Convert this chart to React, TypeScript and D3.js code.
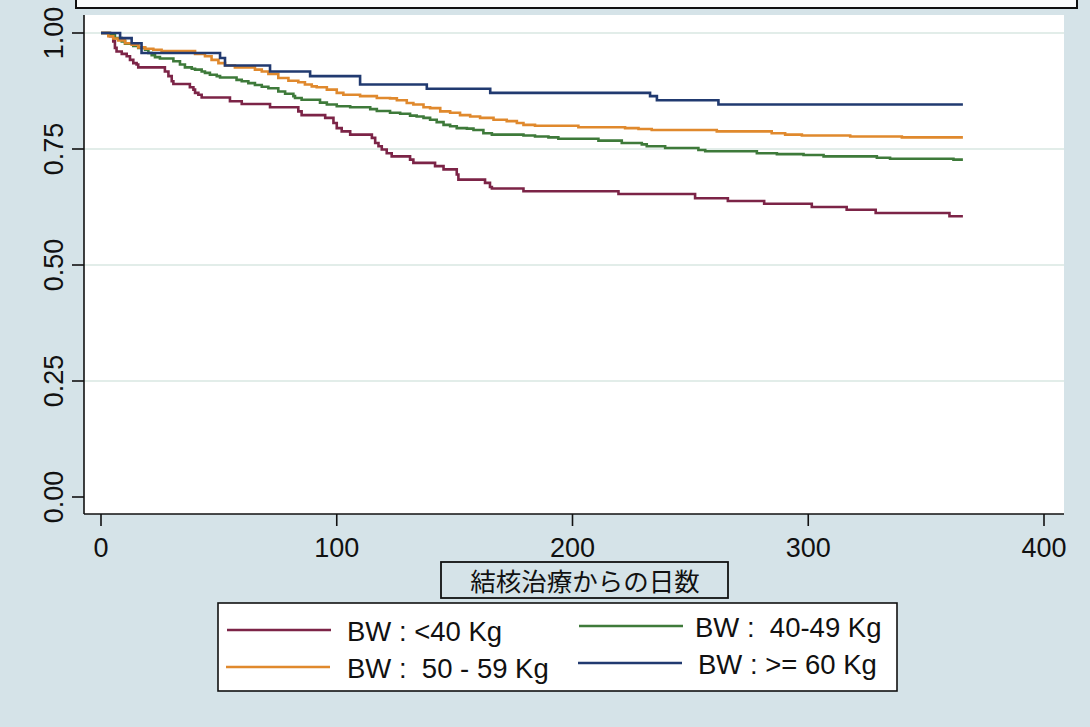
import * as d3 from "d3";

// x axis: days since start of TB treatment
const xTicks = [0, 100, 200, 300, 400];
const yTicks = [0, 0.25, 0.5, 0.75, 1];
const yTickLabels = ["0.00", "0.25", "0.50", "0.75", "1.00"];
const xTitle = "結核治療からの日数";

// BW < 40 kg
const lt40Days = [0, 3.8, 5.2, 5.9, 6.6, 8.8, 10.9, 12.3, 13.7, 15.1, 15.8, 27.1, 28.6, 30.0, 30.7, 37.7, 39.2, 39.9, 41.3, 42.7, 54.7, 59.7, 71.7, 83.7, 85.1, 95.1, 98.6, 100.0, 102.1, 105.7, 114.9, 116.3, 117.7, 119.1, 121.2, 123.3, 131.1, 132.5, 141.7, 145.3, 150.9, 151.6, 162.9, 165.0, 165.8, 179.2, 219.5, 252.0, 265.9, 281.3, 301.5, 316.3, 328.6, 359.9, 365.6];
const lt40Surv = [1, 0.993, 0.982, 0.968, 0.96, 0.955, 0.95, 0.942, 0.935, 0.932, 0.926, 0.917, 0.907, 0.896, 0.89, 0.883, 0.878, 0.871, 0.867, 0.861, 0.853, 0.847, 0.84, 0.831, 0.823, 0.817, 0.806, 0.795, 0.788, 0.781, 0.774, 0.763, 0.756, 0.749, 0.741, 0.734, 0.727, 0.72, 0.713, 0.706, 0.695, 0.684, 0.677, 0.668, 0.665, 0.659, 0.653, 0.644, 0.638, 0.632, 0.625, 0.619, 0.612, 0.605, 0.605];

// BW 40-49 kg
const bw40Days = [0, 3.8, 5.9, 8.8, 10.2, 13.7, 15.8, 18.7, 20.1, 21.5, 22.9, 25.0, 30.7, 33.5, 35.6, 38.5, 39.9, 42.7, 44.1, 46.2, 49.1, 50.5, 57.5, 59.7, 62.5, 65.3, 68.2, 71.0, 75.2, 78.1, 81.6, 82.3, 85.1, 92.9, 95.8, 100.0, 105.7, 114.2, 117.0, 122.6, 126.9, 131.1, 133.9, 136.8, 139.6, 142.4, 145.3, 148.1, 150.9, 155.2, 158.0, 162.2, 165.8, 179.2, 184.1, 189.8, 194.0, 211.0, 220.9, 229.4, 231.5, 239.3, 253.4, 256.3, 278.2, 286.7, 298.0, 306.5, 329.1, 334.7, 361.6, 365.6];
const bw40Surv = [1, 0.995, 0.989, 0.982, 0.977, 0.972, 0.968, 0.964, 0.957, 0.952, 0.948, 0.945, 0.939, 0.932, 0.926, 0.923, 0.921, 0.917, 0.914, 0.91, 0.907, 0.904, 0.899, 0.896, 0.892, 0.888, 0.884, 0.881, 0.874, 0.869, 0.864, 0.86, 0.856, 0.85, 0.846, 0.842, 0.84, 0.836, 0.832, 0.828, 0.826, 0.822, 0.82, 0.817, 0.813, 0.808, 0.802, 0.799, 0.795, 0.794, 0.791, 0.784, 0.781, 0.779, 0.777, 0.775, 0.772, 0.768, 0.763, 0.76, 0.756, 0.752, 0.748, 0.745, 0.741, 0.739, 0.737, 0.734, 0.731, 0.729, 0.727, 0.727];

// BW 50-59 kg
const bw50Days = [0, 3.1, 5.2, 7.3, 10.2, 13.0, 15.8, 18.7, 22.2, 25.7, 39.9, 44.1, 46.9, 49.8, 52.6, 56.8, 65.3, 68.2, 71.0, 75.2, 79.5, 83.7, 86.5, 89.4, 91.5, 95.8, 100.0, 102.8, 109.9, 117.0, 122.6, 125.5, 129.7, 132.5, 136.8, 139.6, 143.9, 148.1, 152.3, 156.6, 160.8, 166.5, 172.1, 176.4, 179.2, 184.1, 202.5, 222.3, 228.0, 233.6, 261.2, 284.5, 290.2, 297.3, 317.8, 339.7, 365.6];
const bw50Surv = [1, 0.993, 0.988, 0.984, 0.978, 0.975, 0.969, 0.966, 0.964, 0.961, 0.955, 0.95, 0.942, 0.935, 0.93, 0.926, 0.921, 0.917, 0.912, 0.903, 0.897, 0.894, 0.889, 0.885, 0.883, 0.878, 0.871, 0.867, 0.864, 0.86, 0.859, 0.855, 0.849, 0.846, 0.84, 0.838, 0.831, 0.828, 0.823, 0.82, 0.817, 0.813, 0.81, 0.806, 0.802, 0.8, 0.797, 0.795, 0.793, 0.791, 0.788, 0.784, 0.781, 0.779, 0.777, 0.775, 0.775];

// BW >= 60 kg
const bw60Days = [0, 8.1, 13.0, 17.2, 50.5, 52.6, 71.7, 88.7, 109.9, 138.2, 165.1, 232.9, 235.8, 261.9, 365.6];
const bw60Surv = [1, 0.989, 0.978, 0.957, 0.946, 0.93, 0.917, 0.907, 0.889, 0.88, 0.871, 0.864, 0.855, 0.846, 0.846];

const seriesNames = ["BW : <40 Kg", "BW :  40-49 Kg", "BW :  50 - 59 Kg", "BW : >= 60 Kg"];
const seriesColors = ["#7c2447", "#3e7a3a", "#e0892d", "#213a70"];
const seriesDays = [lt40Days, bw40Days, bw50Days, bw60Days];
const seriesSurv = [lt40Surv, bw40Surv, bw50Surv, bw60Surv];

const W = 1090;
const H = 727;
const plot = { left: 84, right: 1064, top: 15, bottom: 514 };
const font = "'Liberation Sans', Arial, sans-serif";

export default function App() {
  const x = d3.scaleLinear().domain([0, 400]).range([101, 1044]);
  const y = d3.scaleLinear().domain([0, 1]).range([497, 33]);

  const line = d3
    .line<[number, number]>()
    .x((d) => x(d[0]))
    .y((d) => y(d[1]))
    .curve(d3.curveStepAfter);

  const series = seriesNames.map((name, i) => ({
    name,
    color: seriesColors[i],
    pts: seriesDays[i].map((d, j) => [d, seriesSurv[i][j]] as [number, number]),
  }));

  // legend slots: two columns, two rows
  const legendSlots = [
    { lx: 227, ly: 630, tx: 347, ty: 641 },
    { lx: 579, ly: 626, tx: 695, ty: 637 },
    { lx: 226, ly: 667, tx: 347, ty: 678 },
    { lx: 578, ly: 663, tx: 698, ty: 674 },
  ];

  return (
    <svg
      width={W}
      height={H}
      style={{ position: "absolute", left: 0, top: 0, display: "block" }}
    >
      <rect width={W} height={H} fill="#d5e3e8" />

      {/* box at top (cut off) */}
      <rect x={76} y={-20} width={1001} height={28} fill="#fbfcfc" stroke="#111" strokeWidth={2} />

      {/* plot region */}
      <rect
        x={plot.left}
        y={plot.top}
        width={plot.right - plot.left}
        height={plot.bottom - plot.top}
        fill="#ffffff"
      />

      {/* grid */}
      {yTicks
        .filter((t) => t > 0)
        .map((t) => (
          <line
            key={"g" + t}
            x1={plot.left}
            x2={plot.right}
            y1={y(t)}
            y2={y(t)}
            stroke="#d9e7e2"
            strokeWidth={1.5}
          />
        ))}

      {/* curves */}
      {series.map((s) => (
        <path
          key={s.name}
          d={line(s.pts) ?? ""}
          fill="none"
          stroke={s.color}
          strokeWidth={2.6}
        />
      ))}

      {/* axes */}
      <line x1={plot.left} x2={plot.left} y1={plot.top} y2={plot.bottom} stroke="#111" strokeWidth={1.6} />
      <line x1={plot.left} x2={plot.right} y1={plot.bottom} y2={plot.bottom} stroke="#111" strokeWidth={1.6} />

      {yTicks.map((t, i) => (
        <g key={"y" + t}>
          <line x1={72} x2={plot.left} y1={y(t)} y2={y(t)} stroke="#111" strokeWidth={1.6} />
          <text
            transform={`translate(63,${y(t)}) rotate(-90)`}
            textAnchor="middle"
            fontFamily={font}
            fontSize={27}
            fill="#111"
          >
            {yTickLabels[i]}
          </text>
        </g>
      ))}

      {xTicks.map((t) => (
        <g key={"x" + t}>
          <line x1={x(t)} x2={x(t)} y1={plot.bottom} y2={plot.bottom + 12} stroke="#111" strokeWidth={1.6} />
          <text x={x(t)} y={557} textAnchor="middle" fontFamily={font} fontSize={27} fill="#111">
            {t}
          </text>
        </g>
      ))}

      {/* x title box */}
      <rect x={441} y={562} width={287} height={36} fill="none" stroke="#111" strokeWidth={1.8} />
      <text
        x={585}
        y={591}
        textAnchor="middle"
        fontFamily="'Noto Sans CJK JP', sans-serif"
        fontSize={25.5}
        fill="#111"
      >
        {xTitle}
      </text>

      {/* legend */}
      <rect x={218} y={603} width={679} height={88} fill="#ffffff" stroke="#111" strokeWidth={1.6} />
      {series.map((s, i) => {
        const p = legendSlots[i];
        return (
          <g key={"l" + s.name}>
            <line x1={p.lx} x2={p.lx + 104} y1={p.ly} y2={p.ly} stroke={s.color} strokeWidth={2.6} />
            <text
              x={p.tx}
              y={p.ty}
              fontFamily={font}
              fontSize={27.5}
              fill="#111"
              style={{ whiteSpace: "pre" }}
            >
              {s.name}
            </text>
          </g>
        );
      })}
    </svg>
  );
}
